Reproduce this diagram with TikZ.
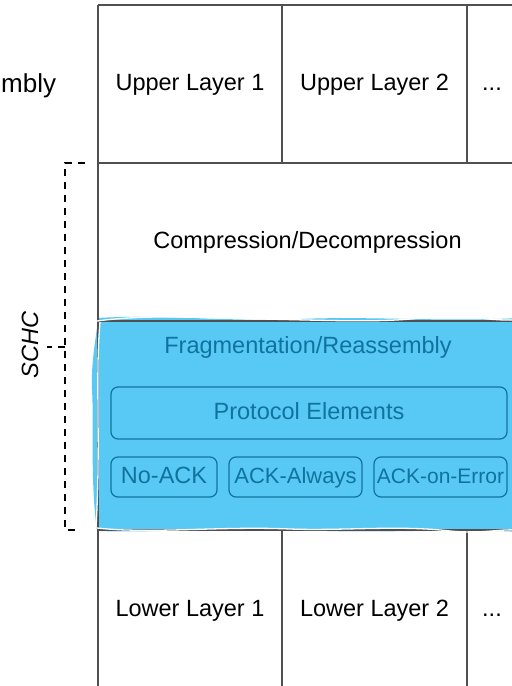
\documentclass[tikz,border=0pt]{standalone}
\usepackage{fontspec}
\setmainfont{Liberation Sans}
\definecolor{fragfill}{RGB}{88,201,244}
\definecolor{fragline}{RGB}{16,115,158}
\definecolor{gridline}{RGB}{80,80,80}

\begin{document}
\begin{tikzpicture}[x=1bp,y=-1bp,
  font=\fontsize{23.5bp}{28bp}\selectfont,
  grid/.style={draw=gridline,line width=1.6bp},
  celltext/.style={text=black,inner sep=0pt,anchor=base},
  fraglabel/.style={text=fragline,inner sep=0pt,anchor=base},
  elembox/.style={draw=fragline,line width=1.2bp,rounded corners=7bp,
    inner sep=0pt,text=fragline,text height=17bp,text depth=5bp},
  wave/.style={draw=white,line width=1.3bp},
  bracestroke/.style={draw=black,line width=2bp,dash pattern=on 7bp off 6bp},
]
\useasboundingbox (0,0) rectangle (512,686);

% sketched blue band behind the fragmentation layer
\fill[fragfill] (98,318)
  .. controls (160,314) and (230,322) .. (300,319)
  .. controls (370,316) and (440,322) .. (520,318)
  -- (520,532)
  .. controls (450,528) and (380,534) .. (300,530)
  .. controls (230,527) and (160,533) .. (97,531)
  .. controls (90,480) and (94,420) .. (92,390)
  .. controls (91,360) and (96,340) .. (98,318) -- cycle;

% layer grid
\draw[grid] (98,5) -- (520,5);
\draw[grid] (98,163) -- (520,163);
\draw[grid] (98,321) -- (520,321);
\draw[grid] (98,530) -- (520,530);
\draw[grid] (98,5) -- (98,690);
\draw[grid] (282,5) -- (282,163);
\draw[grid] (467,5) -- (467,163);
\draw[grid] (282,530) -- (282,690);
\draw[grid] (467,530) -- (467,690);

% white sketch strokes along the band edges
\draw[wave] (97,321) .. controls (150,314) and (200,318) .. (260,319)
  .. controls (320,320) and (380,323) .. (420,318)
  .. controls (460,314) and (490,321) .. (515,320);
\draw[wave] (97,528) .. controls (150,534) and (220,526) .. (290,529)
  .. controls (340,531) and (400,525) .. (450,531)
  .. controls (480,534) and (500,529) .. (515,530);
\draw[wave] (100,322) .. controls (95,380) and (101,440) .. (96,528);

% upper layers
\node[celltext] (up1) at (190,91) {Upper Layer 1};
\node[celltext] (up2) at (374.5,91) {Upper Layer 2};
\node[celltext] (upx) at (492,91) {...};

% compression layer
\node[celltext] (comp) at (307.5,248) {Compression/Decompression};

% fragmentation layer
\node[fraglabel] (frag) at (308,353) {Fragmentation/Reassembly};
\node[elembox,minimum width=396bp,minimum height=52bp] (elem) at (309,413) {Protocol Elements};
\node[elembox,minimum width=106bp,minimum height=40bp] (noack) at (164,477) {No-ACK};
\node[elembox,minimum width=133bp,minimum height=40bp,
  font=\fontsize{22bp}{26bp}\selectfont] (always) at (295.5,477) {ACK-Always};
\node[elembox,minimum width=133bp,minimum height=40bp,
  font=\fontsize{21bp}{25bp}\selectfont] (onerr) at (440.5,477) {ACK-on-Error};

% lower layers
\node[celltext] (low1) at (190,616.5) {Lower Layer 1};
\node[celltext] (low2) at (374.5,616.5) {Lower Layer 2};
\node[celltext] (lowx) at (492,616.5) {...};

% dashed brace spanning the SCHC layers
\coordinate (bt) at (85,163);
\coordinate (btc) at (65,163);
\coordinate (bbc) at (65,530);
\coordinate (bb) at (80,530);
\coordinate (bm) at (65,347);
\coordinate (btip) at (47,347);
\draw[bracestroke] (bt) -- (btc) -- (bbc) -- (bb);
\draw[bracestroke] (bm) -- (btip);
\node[rotate=90,inner sep=0pt,font=\fontsize{23.5bp}{28bp}\selectfont\itshape] (schc) at (30,345) {SCHC};

% word fragment at the left edge
\node[inner sep=0pt,anchor=base west,font=\fontsize{26bp}{31bp}\selectfont] (reas) at (1,93) {mbly};
\end{tikzpicture}
\end{document}
